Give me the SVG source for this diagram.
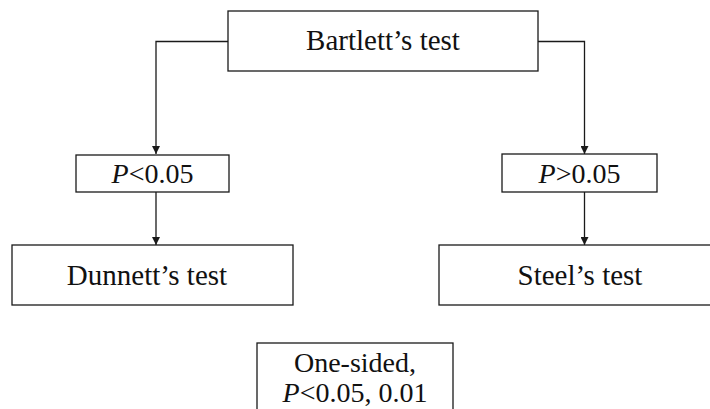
<svg xmlns="http://www.w3.org/2000/svg" width="710" height="409" viewBox="0 0 710 409">
  <style>
    .box { fill: #fff; stroke: #1a1a1a; stroke-width: 1.3; }
    .wire { fill: none; stroke: #1a1a1a; stroke-width: 1.3; }
    .sm { font-size: 28px; }
    .it { font-style: italic; }
  </style>
  <defs>
    <marker id="arrow" viewBox="0 0 10 10" refX="10" refY="5" markerWidth="8" markerHeight="8" markerUnits="userSpaceOnUse" orient="auto">
      <path d="M0,0 L10,5 L0,10 Z" fill="#1a1a1a"/>
    </marker>
  </defs>
  <rect width="710" height="409" fill="#fff"/>

  <g id="connectors">
    <path class="wire" d="M228,41.5 H156 V154" marker-end="url(#arrow)"/>
    <path class="wire" d="M538,41.5 H584.5 V154" marker-end="url(#arrow)"/>
    <path class="wire" d="M156,192 V245" marker-end="url(#arrow)"/>
    <path class="wire" d="M584.5,192 V245" marker-end="url(#arrow)"/>
  </g>

  <g font-family="Liberation Serif, serif" font-size="29" fill="#111" text-anchor="middle">
    <g id="bartlett">
      <rect class="box" x="228" y="11" width="310" height="60"/>
      <text x="383" y="50">Bartlett’s test</text>
    </g>

    <g id="p-less">
      <rect class="box" x="76" y="155" width="153" height="37"/>
      <text class="sm" x="152.5" y="183"><tspan class="it">P</tspan>&lt;0.05</text>
    </g>

    <g id="p-greater">
      <rect class="box" x="502" y="154" width="155" height="38"/>
      <text class="sm" x="579.5" y="183"><tspan class="it">P</tspan>&gt;0.05</text>
    </g>

    <g id="dunnett">
      <rect class="box" x="12" y="245" width="281" height="60"/>
      <text x="147" y="285">Dunnett’s test</text>
    </g>

    <g id="steel">
      <rect class="box" x="439" y="245" width="283" height="60"/>
      <text x="580" y="285">Steel’s test</text>
    </g>

    <g id="one-sided">
      <rect class="box" x="257" y="343" width="196" height="80"/>
      <text class="sm" x="355" y="372">One-sided,</text>
      <text class="sm" x="355" y="402"><tspan class="it">P</tspan>&lt;0.05, 0.01</text>
    </g>
  </g>
</svg>
